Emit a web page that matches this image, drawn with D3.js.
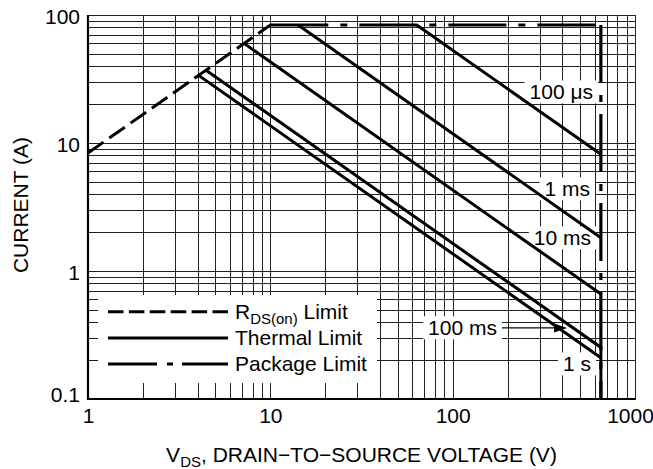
<!DOCTYPE html>
<html>
<head>
<meta charset="utf-8">
<script src="https://cdn.jsdelivr.net/npm/d3@7"></script>
<style>
  body { margin: 0; background: #fff; }
  text { font-family: "Liberation Sans", Arial, Helvetica, sans-serif; fill: #000; }
</style>
</head>
<body>
<script>
// axis ticks
var xLabels = [1, 10, 100, 1000];
var yLabels = [0.1, 1, 10, 100];

// RDS(on) limit line
var rdsV = [1, 10];
var rdsI = [8.35, 83.5];

// package limit (top flat, then vertical at 650 V)
var pkgV = [10, 650, 650];
var pkgI = [83.5, 83.5, 0.1];

// thermal limit curves
var curveNames = ["100 μs", "1 ms", "10 ms", "100 ms", "1 s"];
var curveV = [[63.5, 650], [14.2, 650], [7.17, 650], [4.44, 650, 650], [4.06, 650]];
var curveI = [[83.5, 8.16], [83.5, 1.82], [60, 0.66], [37, 0.253, 0.1], [33.6, 0.21]];

// where each curve label sits (right edge, V / I)
var labelV = [589, 566, 574, 175, 574];
var labelI = [25, 4.37, 1.81, 0.359, 0.1875];

var legendNames = ["Limit", "Thermal Limit", "Package Limit"];

var W = 653, H = 469;
var margin = {top: 15, right: 18, bottom: 70, left: 88};
var w = W - margin.left - margin.right, h = H - margin.top - margin.bottom;

var svg = d3.select("body").append("svg")
    .attr("width", W)
    .attr("height", H);

var x = d3.scaleLog().domain([1, 1000]).range([margin.left, margin.left + w]);
var y = d3.scaleLog().domain([0.1, 100]).range([margin.top + h, margin.top]);

// grid via axes
var gx = svg.append("g")
    .attr("transform", "translate(0," + (margin.top + h) + ")")
    .call(d3.axisBottom(x).tickValues(x.ticks()).tickSize(-h).tickPadding(9)
        .tickFormat(function(d){ return xLabels.indexOf(d) >= 0 ? String(d) : ""; }));
var gy = svg.append("g")
    .attr("transform", "translate(" + margin.left + ",0)")
    .call(d3.axisLeft(y).tickValues(y.ticks()).tickSize(-w).tickPadding(8)
        .tickFormat(function(d){ return yLabels.indexOf(d) >= 0 ? String(d) : ""; }));

[gx, gy].forEach(function(g){
    g.select(".domain").remove();
    g.selectAll(".tick line").attr("stroke", "#222").attr("stroke-width", 1).attr("shape-rendering", "crispEdges");
    g.selectAll(".tick text").attr("font-size", 21).attr("fill", "#000");
});
gx.selectAll(".tick text").filter(function(d){ return d === 1000; }).attr("dx", -5);
gy.selectAll(".tick text").attr("y", function(d){ return d === 0.1 ? -4 : 2; });

// frame: thick left & bottom
svg.append("rect")
    .attr("x", margin.left).attr("y", margin.top)
    .attr("width", w).attr("height", h)
    .attr("fill", "none").attr("stroke", "#222").attr("stroke-width", 1)
    .attr("shape-rendering", "crispEdges");
svg.append("path")
    .attr("d", "M" + margin.left + "," + margin.top + "V" + (margin.top + h) + "H" + (margin.left + w))
    .attr("fill", "none").attr("stroke", "#000").attr("stroke-width", 2.2);

var gBoxes = svg.append("g");
var gCurves = svg.append("g");
var gText = svg.append("g");

var line = d3.line()
    .x(function(d){ return x(d[0]); })
    .y(function(d){ return y(d[1]); });

function pts(vs, is){ return vs.map(function(v, i){ return [v, is[i]]; }); }

// RDS(on) limit
gCurves.append("path")
    .attr("d", line(pts(rdsV, rdsI)))
    .attr("fill", "none").attr("stroke", "#000").attr("stroke-width", 3)
    .attr("stroke-dasharray", "19,7");

// package limit, dashes restart on each segment
var pk = pts(pkgV, pkgI);
for (var i = 0; i < pk.length - 1; i++) {
    gCurves.append("path")
        .attr("d", line([pk[i], pk[i + 1]]))
        .attr("fill", "none").attr("stroke", "#000").attr("stroke-width", 3.2)
        .attr("stroke-dasharray", "58,12,7,12");
}

// thermal curves
curveV.forEach(function(vs, k){
    gCurves.append("path")
        .attr("d", line(pts(vs, curveI[k])))
        .attr("fill", "none").attr("stroke", "#000").attr("stroke-width", 3)
        .attr("stroke-linejoin", "miter");
});

// curve labels with white boxes
curveNames.forEach(function(name, k){
    var t = gText.append("text")
        .attr("x", x(labelV[k]))
        .attr("y", y(labelI[k]))
        .attr("dy", "0.35em")
        .attr("text-anchor", "end")
        .attr("font-size", 21)
        .text(name);
    var b = t.node().getBBox();
    gBoxes.append("rect")
        .attr("x", b.x - 5).attr("y", b.y)
        .attr("width", b.width + 10).attr("height", b.height)
        .attr("fill", "#fff");
});

// arrow from "100 ms" label to its curve
var ay = y(labelI[3]);
gCurves.append("line")
    .attr("x1", x(labelV[3]) + 5).attr("x2", x(424) - 8)
    .attr("y1", ay).attr("y2", ay)
    .attr("stroke", "#000").attr("stroke-width", 1.3);
gCurves.append("path")
    .attr("d", "M" + x(424) + "," + ay + "l-13,-4.5v9z")
    .attr("fill", "#000");

// legend
gBoxes.append("rect")
    .attr("x", 98).attr("y", 295).attr("width", 279).attr("height", 88)
    .attr("fill", "#fff");
var legY = [311.7, 338, 364];
var legDash = ["15.5,5.4", null, "49,10,6,9"];
legendNames.forEach(function(name, k){
    gCurves.append("line")
        .attr("x1", 108).attr("x2", 228)
        .attr("y1", legY[k]).attr("y2", legY[k])
        .attr("stroke", "#000").attr("stroke-width", 3)
        .attr("stroke-dasharray", legDash[k]);
    var t = gText.append("text")
        .attr("x", 235).attr("y", legY[k]).attr("dy", "0.35em")
        .attr("font-size", 21);
    if (k === 0) {
        t.append("tspan").text("R");
        t.append("tspan").attr("font-size", 15).attr("dy", 5).text("DS(on)");
        t.append("tspan").attr("dy", -5).text(" " + name);
    } else {
        t.text(name);
    }
});

// axis titles
var xt = svg.append("text")
    .attr("x", margin.left + w / 2)
    .attr("y", 462)
    .attr("text-anchor", "middle")
    .attr("font-size", 21);
xt.append("tspan").text("V");
xt.append("tspan").attr("font-size", 15).attr("dy", 5).text("DS");
xt.append("tspan").attr("dy", -5).text(", DRAIN\u2212TO\u2212SOURCE VOLTAGE (V)");

svg.append("text")
    .attr("transform", "translate(28," + (margin.top + h / 2 - 2) + ") rotate(-90)")
    .attr("text-anchor", "middle")
    .attr("font-size", 21)
    .text("CURRENT (A)");
</script>
</body>
</html>
